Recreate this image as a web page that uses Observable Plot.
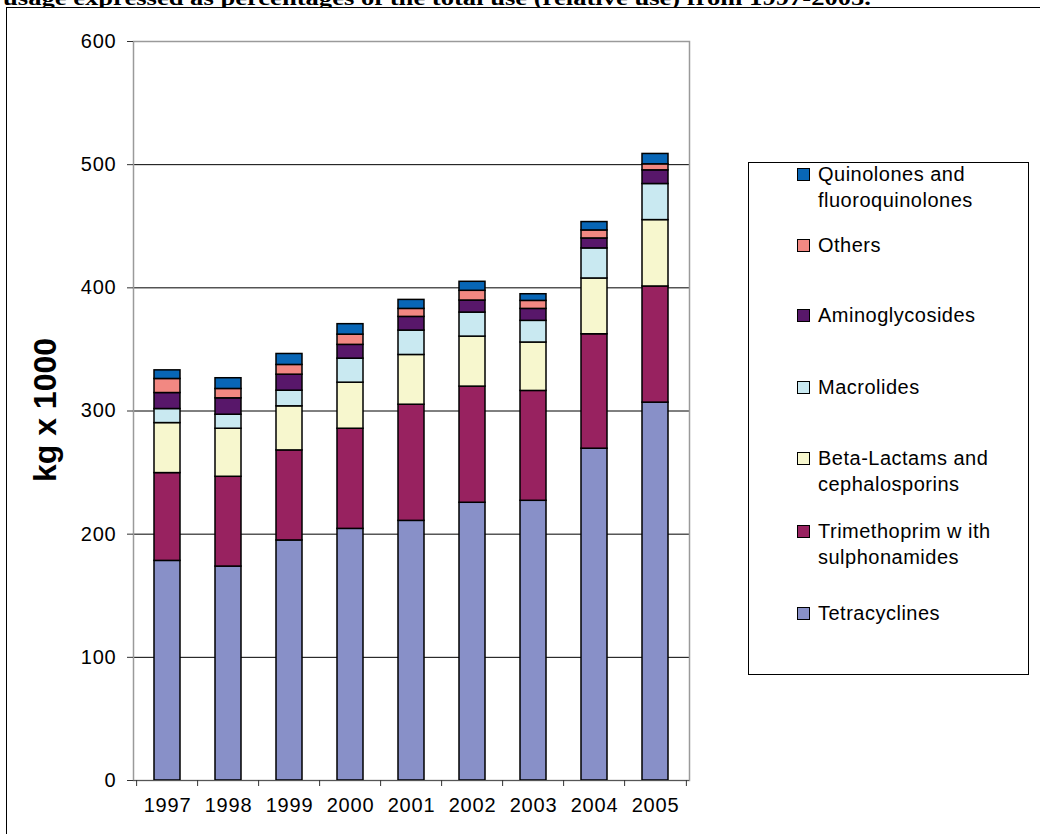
<!DOCTYPE html>
<html>
<head>
<meta charset="utf-8">
<script src="https://cdn.jsdelivr.net/npm/d3@7"></script>
<script src="https://cdn.jsdelivr.net/npm/@observablehq/plot@0.6"></script>
<style>
  html, body { margin: 0; padding: 0; background: #fff; }
  #wrap { position: relative; width: 1040px; height: 834px; overflow: hidden; font-family: "Liberation Sans", Arial, sans-serif; }
  #frame { position: absolute; left: 6px; top: 7px; width: 1200px; height: 1000px; border-left: 1.5px solid #000; border-top: 1.5px solid #000; }
  #title { position: absolute; left: 0; top: 0; }
  #chart { position: absolute; left: 0; top: 0; }
  #chart svg text { font-family: "Liberation Sans", Arial, sans-serif; letter-spacing: 0.8px; }
  #ylabel { position: absolute; left: 45px; top: 410px; transform: translate(-50%, -50%) rotate(-90deg); font-weight: bold; font-size: 32px; white-space: nowrap; color: #000; }
  #legend { position: absolute; left: 748px; top: 162px; width: 281px; height: 513px; border: 1px solid #000; box-sizing: border-box; }
  .item { position: absolute; left: 69px; font-size: 20px; line-height: 26px; letter-spacing: 0.5px; color: #000; white-space: nowrap; }
  .sw { position: absolute; left: -21px; top: 7px; width: 11px; height: 11px; border: 1.3px solid #000; }
</style>
</head>
<body>
<div id="wrap">
  <svg id="title" width="1040" height="8"><text id="titleText" x="3" y="5" font-family="'Liberation Serif', 'Times New Roman', serif" font-weight="bold" font-size="20" textLength="868" lengthAdjust="spacingAndGlyphs"></text></svg>
  <div id="frame"></div>
  <div id="chart"></div>
  <div id="ylabel"></div>
  <div id="legend"></div>
</div>
<script>
// ---- data ----
const titleText = "usage expressed as percentages of the total use (relative use) from 1997-2005.";
const yLabel = "kg x 1000";
const years = ["1997", "1998", "1999", "2000", "2001", "2002", "2003", "2004", "2005"];
const classes = [
  "Tetracyclines",
  "Trimethoprim w ith sulphonamides",
  "Beta-Lactams and cephalosporins",
  "Macrolides",
  "Aminoglycosides",
  "Others",
  "Quinolones and fluoroquinolones"
];
const legendLines = [
  ["Tetracyclines"],
  ["Trimethoprim w ith", "sulphonamides"],
  ["Beta-Lactams and", "cephalosporins"],
  ["Macrolides"],
  ["Aminoglycosides"],
  ["Others"],
  ["Quinolones and", "fluoroquinolones"]
];
const colors = ["#8890C8", "#982260", "#F7F7CE", "#C9E9F1", "#58176A", "#F28882", "#0866B6"];
const tetracyclines   = [178.3, 173.7, 194.9, 204.3, 210.8, 225.5, 227.1, 269.4, 306.8];
const trimethoprim    = [71.3, 72.9, 73.1, 81.3, 94.3, 94.3, 89.2, 92.9, 94.3];
const betaLactams     = [40.6, 39.0, 35.8, 37.4, 40.4, 40.6, 39.3, 45.3, 53.9];
const macrolides      = [11.4, 11.4, 12.7, 19.5, 19.8, 19.5, 17.6, 24.4, 29.3];
const aminoglycosides = [13.0, 13.3, 13.0, 11.2, 11.1, 9.8, 9.7, 8.1, 11.1];
const others          = [11.4, 7.6, 7.9, 8.3, 6.5, 7.9, 6.5, 6.5, 4.9];
const quinolones      = [7.0, 8.7, 8.9, 8.5, 7.3, 7.3, 5.4, 6.8, 8.4];
const yTicks = [0, 100, 200, 300, 400, 500, 600];

// ---- build ----
const series = [tetracyclines, trimethoprim, betaLactams, macrolides, aminoglycosides, others, quinolones];
const rows = [];
classes.forEach((cls, k) => years.forEach((year, i) => rows.push({year, cls, value: series[k][i]})));

document.getElementById("titleText").textContent = titleText;
document.getElementById("ylabel").textContent = yLabel;

const W = 740, H = 834, ML = 133, MR = 51, MT = 41, MB = 54;
const step = (W - ML - MR) / years.length;

const chart = Plot.plot({
  width: W, height: H,
  marginLeft: ML, marginRight: MR, marginTop: MT, marginBottom: MB,
  style: {fontFamily: "'Liberation Sans', Arial, sans-serif", fontSize: "20px", color: "#000", background: "transparent", overflow: "visible"},
  x: {domain: years, paddingInner: 0.58, paddingOuter: 0.29, label: null},
  y: {domain: [0, 600], label: null},
  color: {domain: classes, range: colors},
  marks: [
    Plot.gridY(yTicks.filter(v => v > 0 && v < 600), {stroke: "#000", strokeOpacity: 1, strokeWidth: 1}),
    Plot.frame({stroke: "#9a9a9a", strokeWidth: 1.5}),
    Plot.barY(rows, {x: "year", y: "value", fill: "cls", z: "cls", stroke: "#000", strokeWidth: 1.5}),
    Plot.ruleY([0], {stroke: "#555", strokeWidth: 1.2}),
    Plot.axisY(yTicks, {tickSize: 6, tickPadding: 11, stroke: "#333", fontSize: 20}),
    Plot.axisX({tickSize: 0, tickPadding: 17, fontSize: 20}),
    Plot.ruleX(years, {x: d => d, y1: 0, y2: 0, insetBottom: -6, dx: -step / 2, stroke: "#333"}),
    Plot.ruleX(years.slice(-1), {x: d => d, y1: 0, y2: 0, insetBottom: -6, dx: step / 2, stroke: "#333"})
  ]
});
document.getElementById("chart").append(chart);

// legend (top to bottom: reverse stack order)
const legendTops = [610, 528, 455, 384, 312, 242, 171]; // px from page top, per class (first line top)
const legend = document.getElementById("legend");
classes.forEach((cls, k) => {
  const it = document.createElement("div");
  it.className = "item";
  it.style.top = (legendTops[k] - 162 - 11) + "px";
  it.innerHTML = legendLines[k].join("<br>");
  const sw = document.createElement("div");
  sw.className = "sw";
  sw.style.background = colors[k];
  it.prepend(sw);
  legend.append(it);
});
</script>
</body>
</html>
